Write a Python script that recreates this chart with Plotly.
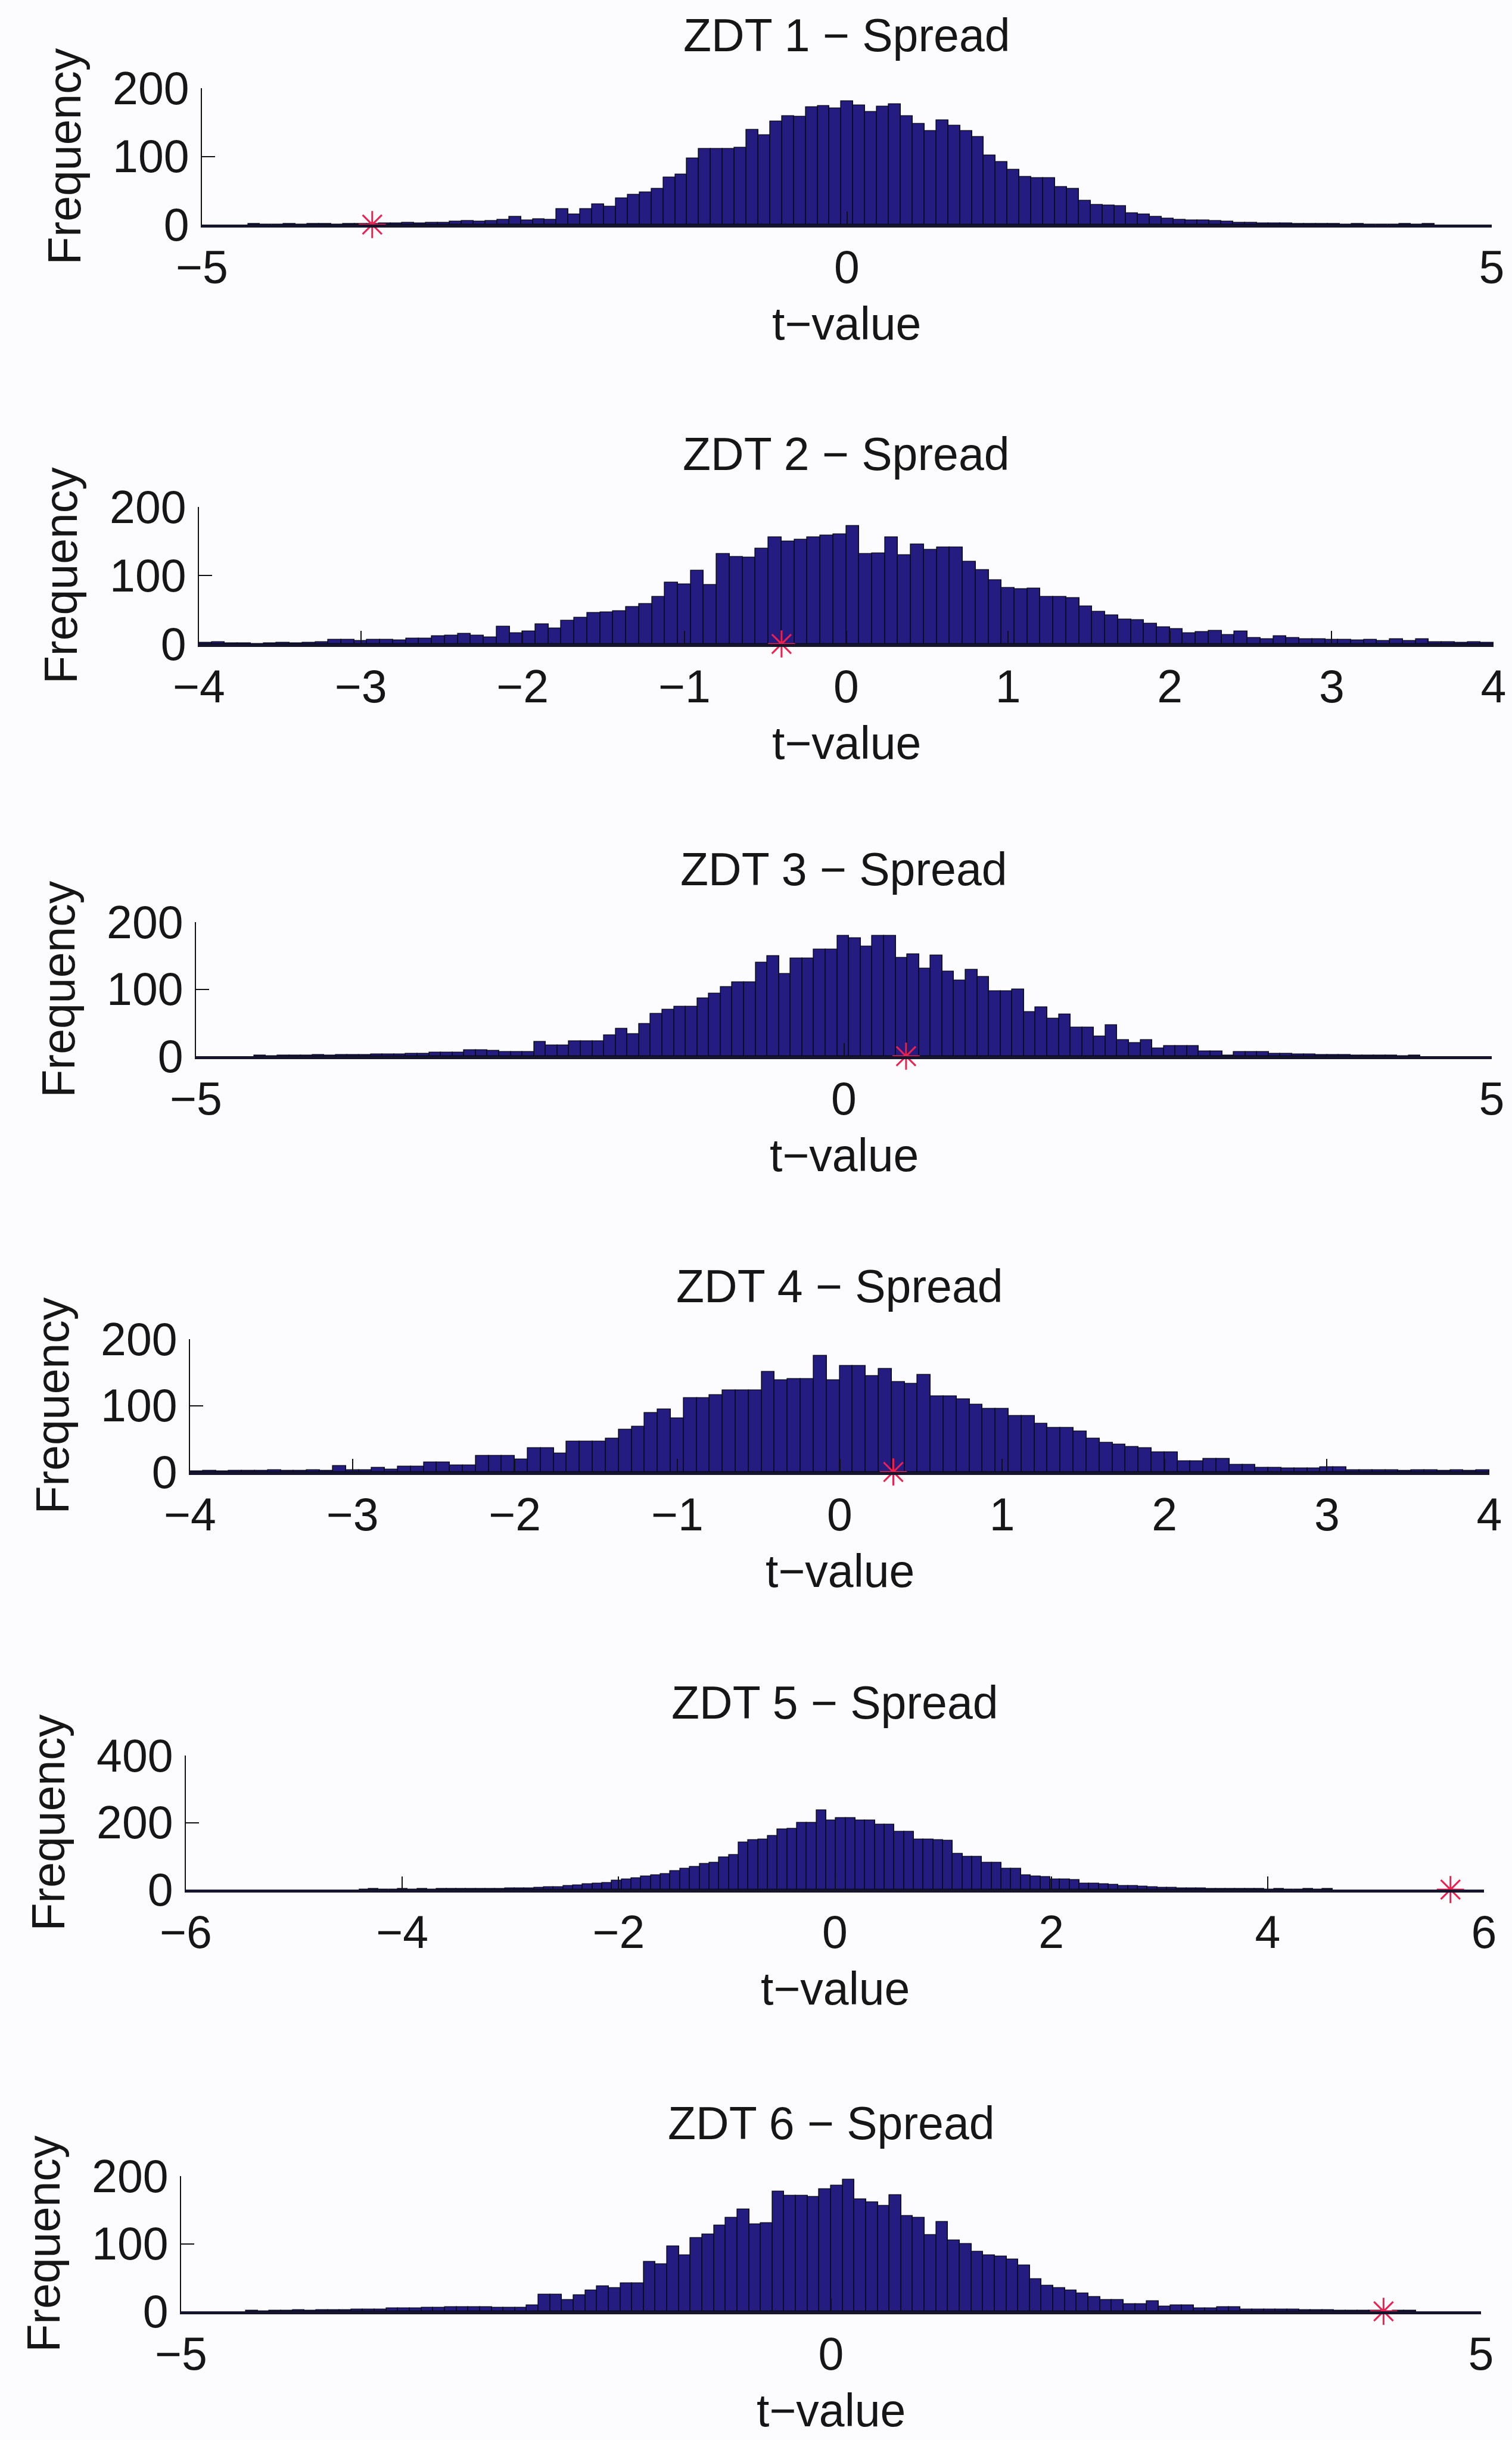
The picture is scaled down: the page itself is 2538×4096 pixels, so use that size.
import plotly.graph_objects as go

# ---------------------------------------------------------------------------
# Permutation-test t-value histograms (100 bins each) and observed t-values
# ---------------------------------------------------------------------------
titles = ["ZDT 1 − Spread", "ZDT 2 − Spread", "ZDT 3 − Spread",
          "ZDT 4 − Spread", "ZDT 5 − Spread", "ZDT 6 − Spread"]

# first bin edge and bin width of each histogram
bin_lo = [-4.642, -4.0, -4.55, -4.0, -4.4, -4.5]
bin_width = [0.092, 0.08, 0.09, 0.08, 0.09, 0.09]

counts_zdt1 = [1, 0, 0, 1, 0, 1, 1, 0, 1, 1, 1, 2, 2, 3, 2, 3, 3, 4, 5, 4, 5,
               7, 11, 6, 8, 7, 23, 15, 23, 30, 26, 38, 44, 47, 52, 69, 73, 97, 111, 111, 111,
               113, 139, 131, 151, 159, 158, 172, 174, 170, 181, 175, 165, 173, 176, 159,
               148, 137, 153, 145, 137, 128, 101,
               92, 80, 70, 68, 68, 55, 52, 35, 29, 28, 27, 17, 15, 11, 9, 7, 6, 6, 5, 4,
               3, 3, 2, 2, 2, 1, 1, 1, 1, 0, 1, 0, 0, 0, 1, 0, 1]
counts_zdt2 = [2, 3, 1, 1, 0, 1, 2, 1, 2,
               3, 6, 6, 4, 6, 6, 5, 8, 8, 11, 12, 15, 12, 10, 25, 16, 18, 29, 23, 34,
               38, 45, 46, 48, 54, 58, 69, 90, 87, 107, 86, 131, 127, 126, 139,
               156, 150, 152, 156, 158, 160, 172, 131, 132, 156, 130, 145, 137, 141, 141,
               120, 108, 93, 82, 80, 81, 69, 69, 67, 55, 47, 42, 36, 35, 30,
               24, 22, 16, 17, 19, 13, 18, 9, 7, 11, 9, 7, 7, 6, 6, 5, 6, 4, 7, 4,
               7, 3, 3, 2, 3, 2]
counts_zdt3 = [1, 0, 1, 1, 1, 2, 1, 2, 2, 2, 3, 3, 3, 4, 4, 5, 5, 5, 9, 9,
               8, 6, 6, 6, 21, 16, 16, 22, 22, 22, 31, 41, 33, 48, 63, 69, 74, 74, 86, 93,
               103, 110, 110, 140, 149, 123, 146, 146, 159, 159, 180, 176, 164, 180, 180,
               147, 152, 131, 150, 126, 113, 129, 118, 97, 97, 100, 66, 73, 56, 62,
               43, 43, 29, 46, 24, 20, 24, 12, 15, 15, 15, 7, 7, 1, 6, 6, 6, 4, 4, 3,
               3, 2, 2, 2, 1, 1, 1, 1, 0, 1]
counts_zdt4 = [1, 2, 1, 2, 2, 2, 3, 2, 2, 3, 2, 9, 3, 3, 6, 4, 8, 8, 14, 14,
               10, 10, 24, 24, 24, 19, 36, 36, 28, 46, 46, 46, 50, 64, 68, 89, 94, 81, 111, 111,
               116, 123, 123, 123, 151, 138, 140, 140, 175, 138, 160, 160, 144, 155, 135,
               133, 146, 114, 114, 109, 101, 95, 95, 84, 84, 73, 66, 66, 61, 50,
               44, 41, 38, 36, 30, 30, 16, 16, 20, 20, 11, 11, 6, 6, 5, 5, 5, 7, 7, 3,
               3, 3, 3, 2, 3, 3, 2, 3, 2, 3]
counts_zdt5 = [0, 1, 0, 0, 1, 0, 1, 0, 1, 1,
               1, 2, 1, 2, 2, 3, 3, 4, 6, 7,
               8, 10, 13, 16, 18, 20, 26, 30, 34, 40,
               43, 47, 55, 62, 68, 76, 80, 96, 104, 141,
               147, 150, 160, 180, 182, 200, 200, 237, 207, 213,
               213, 207, 207, 193, 193, 173, 173, 150, 150, 148,
               145, 107, 97, 97, 80, 80, 63, 63, 42, 40,
               38, 30, 30, 28, 17, 17, 16, 15, 10, 10,
               9, 8, 6, 5, 4, 3, 3, 2, 2, 2,
               1, 1, 1, 0, 1, 0, 0, 1, 0, 1]
counts_zdt6 = [1, 0, 1, 1, 2, 1, 2, 2, 2, 3,
               3, 3, 4, 4, 4, 5, 5, 6, 6, 6,
               6, 5, 5, 5, 9, 25, 25, 17, 24, 31,
               37, 34, 41, 41, 73, 70, 96, 83, 108, 114,
               127, 138, 151, 129, 130, 177, 171, 171, 169, 181,
               186, 195, 166, 161, 156, 172, 141, 138, 113, 132,
               105, 100, 88, 83, 81, 77, 68, 48, 38, 34,
               31, 26, 21, 17, 17, 11, 11, 15, 7, 9,
               9, 4, 4, 6, 6, 3, 3, 3, 3, 3,
               2, 2, 2, 1, 1, 1, 1, 0, 1, 1]
counts = [counts_zdt1, counts_zdt2, counts_zdt3, counts_zdt4, counts_zdt5, counts_zdt6]

# observed t-value of each problem
observed_t = [-3.68, -0.40, 0.48, 0.33, 5.69, 4.25]

# axis limits and ticks
x_limits = [(-5, 5), (-4, 4), (-5, 5), (-4, 4), (-6, 6), (-5, 5)]
x_ticks = [[-5, 0, 5], list(range(-4, 5)), [-5, 0, 5],
           list(range(-4, 5)), list(range(-6, 7, 2)), [-5, 0, 5]]
y_limits = [200, 200, 200, 200, 400, 200]
y_ticks = [[0, 100, 200], [0, 100, 200], [0, 100, 200],
           [0, 100, 200], [0, 200, 400], [0, 100, 200]]

# ---------------------------------------------------------------------------
# Page geometry (pixels): plot-area left/right edges, top and baseline
# ---------------------------------------------------------------------------
W, H = 2538, 4096
boxes = [(339, 2504, 148, 377),
         (334, 2507, 851, 1081),
         (329, 2504, 1548, 1773),
         (319, 2500, 2248, 2471),
         (312, 2491, 2947, 3172),
         (304, 2486, 3653, 3880)]

FONT = "Liberation Sans, Arial, sans-serif"
FS = 77
TXT = "#161616"
FILL = "#241c80"
EDGE = "#0c0b24"
STAR = "#ee2050"

fig = go.Figure()
annotations = []

for k in range(6):
    sfx = "" if k == 0 else str(k + 1)
    lo, w = bin_lo[k], bin_width[k]
    centers = [lo + w * (i + 0.5) for i in range(len(counts[k]))]

    fig.add_trace(go.Bar(
        x=centers, y=counts[k], width=w,
        marker=dict(color=FILL, line=dict(color=EDGE, width=1.6)),
        xaxis="x" + sfx, yaxis="y" + sfx, showlegend=False, hoverinfo="skip",
    ))
    fig.add_trace(go.Scatter(
        x=[observed_t[k]], y=[0], mode="markers",
        marker=dict(symbol="asterisk-open", size=38, color=STAR,
                    line=dict(color=STAR, width=3)),
        cliponaxis=False, xaxis="x" + sfx, yaxis="y" + sfx,
        showlegend=False, hoverinfo="skip",
    ))

    x0, x1, top, base = boxes[k]
    fig.layout["xaxis" + sfx] = dict(
        domain=[x0 / W, x1 / W], anchor="y" + sfx, automargin=False,
        range=list(x_limits[k]), tickvals=x_ticks[k],
        ticks="inside", ticklen=22, tickwidth=2, tickcolor="#111111",
        showline=True, linecolor="#15152e", linewidth=5,
        showgrid=False, zeroline=False,
        tickfont=dict(family=FONT, size=FS, color=TXT),
        ticklabelstandoff=1,
    )
    fig.layout["yaxis" + sfx] = dict(
        domain=[1 - base / H, 1 - top / H], anchor="x" + sfx, automargin=False,
        range=[0, y_limits[k]], tickvals=y_ticks[k],
        ticks="inside", ticklen=22, tickwidth=2, tickcolor="#111111",
        showline=True, linecolor="#111111", linewidth=2,
        showgrid=False, zeroline=False,
        tickfont=dict(family=FONT, size=FS, color=TXT),
        ticklabelstandoff=4,
    )

    cx = (x0 + x1) / 2 / W
    annotations.append(dict(
        text=titles[k], x=cx, y=1 - (top - 89) / H,
        xref="paper", yref="paper", xanchor="center", yanchor="middle",
        showarrow=False, font=dict(family=FONT, size=FS, color=TXT)))
    annotations.append(dict(
        text="t−value", x=cx, y=1 - (base + 166) / H,
        xref="paper", yref="paper", xanchor="center", yanchor="middle",
        showarrow=False, font=dict(family=FONT, size=FS, color=TXT)))
    annotations.append(dict(
        text="Frequency", x=(x0 - 232) / W, y=1 - (top + base) / 2 / H,
        xref="paper", yref="paper", xanchor="center", yanchor="middle",
        textangle=-90, showarrow=False,
        font=dict(family=FONT, size=FS, color=TXT)))

fig.update_layout(
    width=W, height=H,
    margin=dict(l=0, r=0, t=0, b=0, pad=0, autoexpand=False),
    paper_bgcolor="#fcfcfe", plot_bgcolor="#fcfcfe",
    bargap=0, annotations=annotations,
    font=dict(family=FONT, size=FS, color=TXT),
)

fig.write_html("out.html")
